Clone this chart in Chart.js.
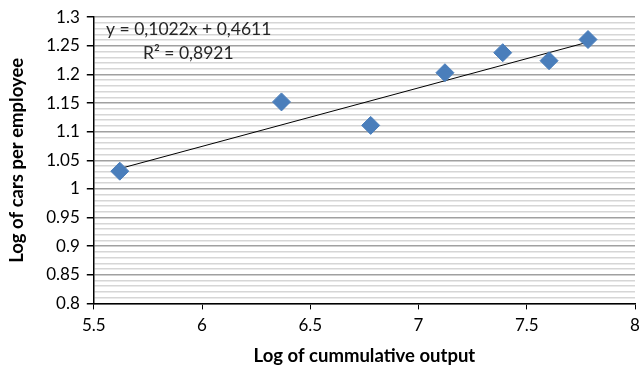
<!DOCTYPE html>
<html><head><meta charset="utf-8">
<script src="https://cdn.jsdelivr.net/npm/chart.js@4/dist/chart.umd.min.js"></script>
<style>html,body{margin:0;padding:0;background:#fff;overflow:hidden}#wrap{width:640px;height:367px;overflow:hidden}</style>
</head><body><div id="wrap"><canvas id="c" width="652" height="367"></canvas></div>
<script>
const xValues = [5.62, 6.367, 6.779, 7.122, 7.389, 7.603, 7.783];
const yValues = [1.031, 1.152, 1.111, 1.203, 1.238, 1.224, 1.261];
const trendSlope = 0.1022;
const trendIntercept = 0.4611;
const rSquared = "0,8921";
const xTitle = "Log of cummulative output";
const yTitle = "Log of cars per employee";

const pts = xValues.map((x, i) => ({x: x, y: yValues[i]}));
const xMin = Math.min(...xValues), xMax = Math.max(...xValues);
const trend = [xMin, xMax].map(x => ({x: x, y: trendSlope * x + trendIntercept}));
const FONT = "Lato, 'Open Sans', sans-serif";
const isMajor = v => Math.abs(Math.round(v * 20) - v * 20) < 1e-6;

const eqPlugin = {
  id: 'eq',
  afterDatasetsDraw(chart) {
    const ctx = chart.ctx;
    ctx.save();
    ctx.fillStyle = '#262626';
    ctx.font = '17.5px ' + FONT;
    ctx.textBaseline = 'middle';
    ctx.fillText('y = ' + String(trendSlope).replace('.', ',') + 'x + ' + String(trendIntercept).replace('.', ','), 106, 29);
    ctx.fillText('R² = ' + rSquared, 143, 53);
    ctx.restore();
  }
};

new Chart(document.getElementById('c'), {
  data: {
    datasets: [
      {type: 'scatter', data: pts, backgroundColor: '#4a7ebb', borderColor: '#4a7ebb',
       pointStyle: 'rectRot', pointRadius: 9, pointHoverRadius: 9, order: 1},
      {type: 'line', data: trend, borderColor: '#000', borderWidth: 1, pointRadius: 0, fill: false, order: 2}
    ]
  },
  options: {
    responsive: false, animation: false,
    layout: {padding: {top: 6, right: 17, left: 6, bottom: 0}},
    plugins: {legend: {display: false}, tooltip: {enabled: false}},
    scales: {
      x: {type: 'linear', min: 5.5, max: 8,
        ticks: {stepSize: 0.5, color: '#000', font: {family: FONT, size: 17}, padding: 6,
          callback: v => String(v)},
        grid: {drawOnChartArea: false, drawTicks: true, tickLength: 6, color: '#000'},
        border: {color: '#000', width: 1.5},
        title: {display: true, text: xTitle, color: '#000', font: {family: FONT, size: 18.5, weight: 'bold'}, padding: {top: 3, bottom: 0}}
      },
      y: {type: 'linear', min: 0.8, max: 1.3,
        ticks: {stepSize: 0.01, autoSkip: false, color: '#000', font: {family: FONT, size: 17}, padding: 7,
          callback: v => isMajor(v) ? String(Math.round(v * 100) / 100) : ''},
        grid: {drawTicks: true, tickLength: 7,
          color: c => isMajor(c.tick.value) ? '#a0a0a0' : '#d6d6d6',
          tickColor: c => isMajor(c.tick.value) ? '#000' : 'rgba(0,0,0,0)', lineWidth: 1.5},
        border: {color: '#000', width: 1.5},
        title: {display: true, text: yTitle, color: '#000', font: {family: FONT, size: 18.5, weight: 'bold'}, padding: {bottom: 11, top: 0}}
      }
    }
  },
  plugins: [eqPlugin]
});
</script></body></html>
